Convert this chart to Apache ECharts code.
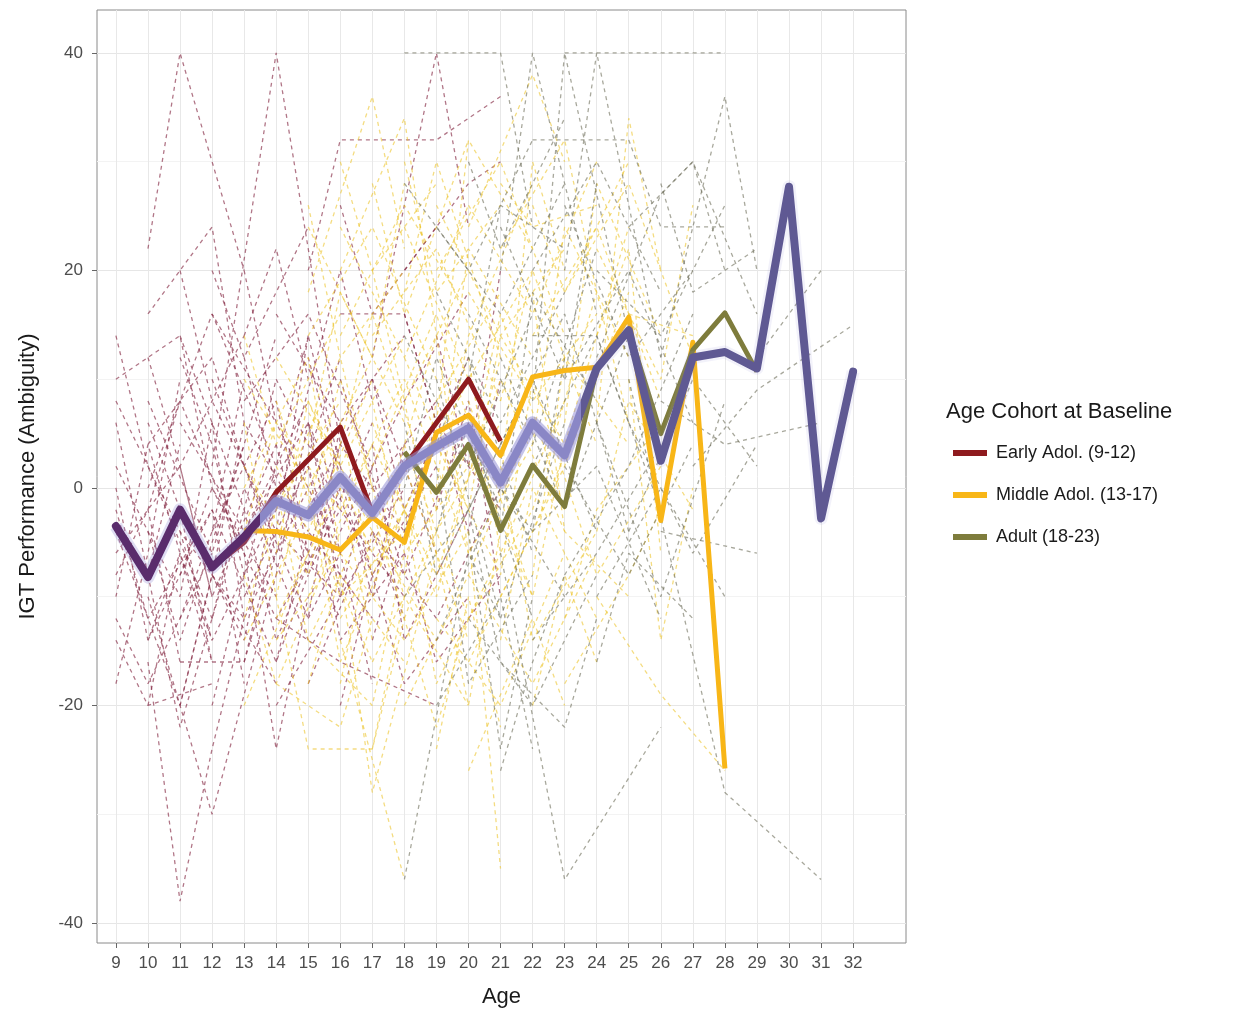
<!DOCTYPE html>
<html>
<head>
<meta charset="utf-8">
<script src="https://cdn.jsdelivr.net/npm/echarts@6/dist/echarts.min.js"></script>
<style>html,body{margin:0;padding:0;background:#fff}#c{width:1238px;height:1015px}</style>
</head>
<body>
<div id="c"></div>
<script>
// ---- tick labels ----
const xTicks = [9,10,11,12,13,14,15,16,17,18,19,20,21,22,23,24,25,26,27,28,29,30,31,32];
const yTicks = [-40,-20,0,20,40];
const yMinorTicks = [-30,-10,10,30];

// ---- group mean lines ----
const overallAges = [9,10,11,12,13,14,15,16,17,18,19,20,21,22,23,24,25,26,27,28,29,30,31,32];
const overallMean = [-3.5,-8.2,-2,-7.3,-4.5,-1.2,-2.5,1,-2.3,2,3.8,5.5,0.5,6,3,11,14.5,2.5,12,12.5,11,27.7,-2.8,10.7];

const earlyAges = [9,10,11,12,13,14,15,16,17,18,19,20,21];
const earlyMean = [-3.5,-8.2,-2,-7.3,-5,-0.4,2.6,5.6,-2.3,2,6,10,4.3];

const middleAges = [13,14,15,16,17,18,19,20,21,22,23,24,25,26,27,28];
const middleMean = [-3.9,-4,-4.5,-5.7,-2.7,-5,5.1,6.7,3,10.2,10.8,11.1,15.7,-3,13.4,-25.8];

const adultAges = [18,19,20,21,22,23,24,25,26,27,28,29];
const adultMean = [3.3,-0.4,4,-3.9,2.1,-1.7,11,14.5,5,12.7,16.1,10.7];

// ---- individual trajectories ([age, score] pairs) ----
const earlyTraj = [
 [[10,22],[11,40],[13,20]],
 [[12,2],[14,40],[16,4]],
 [[10,-16],[11,-38],[12,-24],[13,-12]],
 [[10,-10],[12,-30],[14,-8]],
 [[11,-16],[13,-16],[14,-6]],
 [[13,-6],[14,-24],[15,-10]],
 [[9,-18],[10,-6],[11,10]],
 [[9,14],[10,2],[12,-12]],
 [[15,20],[16,32],[19,32],[21,36]],
 [[17,12],[19,40],[20,24]],
 [[11,12],[12,4],[13,-8]],
 [[10,8],[12,-6],[14,14]],
 [[14,-12],[16,-16],[19,-20]],
 [[9,-2],[10,-12],[12,-2]],
 [[9,2],[11,-10],[12,6]],
 [[10,-4],[11,-14],[13,4]],
 [[10,4],[12,12],[13,2]],
 [[11,-4],[12,-14],[14,-2]],
 [[11,6],[13,-4],[15,8]],
 [[12,-8],[13,6],[15,-4]],
 [[12,10],[14,-6],[16,12]],
 [[13,8],[15,16],[17,2]],
 [[13,-10],[15,2],[16,-8]],
 [[14,4],[15,-8],[17,6]],
 [[14,16],[16,6],[18,14]],
 [[15,-2],[17,10],[19,-6]],
 [[15,12],[17,-10],[18,4]],
 [[16,-4],[18,8],[20,18]],
 [[16,10],[18,-8],[20,6]],
 [[17,-14],[19,6],[21,-2]],
 [[18,16],[20,-4],[21,10]],
 [[9,-8],[10,-2],[11,-16]],
 [[9,8],[11,-4],[13,-12]],
 [[10,-20],[11,-6],[12,-14]],
 [[12,-20],[13,-8],[14,2]],
 [[11,20],[12,8],[14,-4]],
 [[12,20],[13,12],[15,24]],
 [[13,20],[14,6],[16,-6]],
 [[14,-16],[15,-4],[17,-12]],
 [[16,16],[18,16],[19,6]],
 [[18,20],[20,28],[21,30]],
 [[13,-2],[14,-14],[16,0]],
 [[10,12],[11,2],[13,14]],
 [[9,-12],[10,-18],[12,-6]],
 [[9,-6],[11,2],[12,-10]],
 [[11,-8],[12,0],[14,-10]],
 [[12,-4],[14,8],[15,-6]],
 [[13,2],[15,-12],[16,6]],
 [[14,-2],[16,20],[17,8]],
 [[15,6],[16,-10],[18,0]],
 [[17,4],[18,-14],[20,-2]],
 [[19,14],[20,2],[21,20]],
 [[16,26],[17,16],[19,24]],
 [[10,16],[12,24],[13,6]],
 [[15,-18],[17,-4],[18,-12]],
 [[9,0],[10,-14],[11,-6]],
 [[9,-10],[10,4],[12,-16]],
 [[9,6],[10,-8],[11,4]],
 [[9,-4],[11,-20],[12,-8]],
 [[9,10],[11,14],[12,0]],
 [[10,-2],[11,8],[13,-6]],
 [[10,-14],[12,-2],[13,-18]],
 [[10,6],[11,-2],[12,-16]],
 [[10,-8],[11,-22],[13,-2]],
 [[11,-12],[12,-4],[13,10]],
 [[11,2],[12,-10],[14,4]],
 [[11,-2],[13,-14],[14,0]],
 [[11,14],[13,-2],[14,10]],
 [[12,-12],[13,0],[15,-14]],
 [[12,6],[13,-12],[15,0]],
 [[12,-2],[14,-16],[15,-8]],
 [[12,16],[14,2],[15,14]],
 [[13,-16],[14,-4],[16,-10]],
 [[13,12],[14,0],[16,-12]],
 [[13,-4],[15,6],[17,-8]],
 [[14,-8],[15,6],[17,-18]],
 [[14,10],[16,-2],[18,-10]],
 [[14,-20],[16,-10],[17,2]],
 [[15,-6],[16,4],[18,-4]],
 [[15,-12],[17,0],[19,8]],
 [[16,-20],[17,-8],[19,2]],
 [[16,2],[18,-18],[20,-10]],
 [[17,-4],[19,-12],[21,0]],
 [[18,-6],[19,-16],[21,-8]],
 [[9,-14],[10,-20],[12,-18]],
 [[11,-20],[12,-8],[14,-18]],
 [[13,14],[14,22],[15,10]],
 [[10,0],[12,16],[14,6]],
 [[12,0],[14,-12],[16,-2]],
 [[15,2],[16,-14],[18,-6]],
 [[17,10],[18,-2],[20,12]],
 [[19,-2],[20,8],[21,-10]],
 [[14,-4],[15,14],[16,2]]
];

const middleTraj = [
 [[16,-14],[18,-36]],
 [[20,-4],[21,-35]],
 [[15,18],[17,36],[18,22]],
 [[20,24],[22,38],[23,30]],
 [[24,6],[25,34],[26,20]],
 [[24,-10],[26,-19],[28,-26]],
 [[25,16],[27,14]],
 [[14,-10],[15,-24],[17,-24],[18,-12]],
 [[16,-8],[17,-28],[19,-6]],
 [[13,-20],[15,-6]],
 [[13,-4],[14,6],[16,-2]],
 [[13,2],[15,-8],[16,4]],
 [[13,-12],[14,-2],[16,8]],
 [[13,10],[15,0],[17,12]],
 [[14,-6],[15,8],[17,-4]],
 [[14,12],[16,2],[18,14]],
 [[14,-14],[16,-6],[18,2]],
 [[14,0],[15,-14],[17,-2]],
 [[15,4],[16,18],[18,6]],
 [[15,-10],[17,4],[19,-8]],
 [[15,14],[17,24],[19,10]],
 [[15,-18],[16,-8],[18,-16]],
 [[16,6],[17,-8],[19,4]],
 [[16,-2],[18,10],[20,-6]],
 [[16,24],[18,12],[20,26]],
 [[16,-12],[18,-2],[20,10]],
 [[17,8],[18,-6],[20,2]],
 [[17,-16],[19,-4],[21,6]],
 [[17,14],[19,22],[21,8]],
 [[17,2],[19,16],[21,-4]],
 [[18,-8],[19,8],[21,18]],
 [[18,24],[20,10],[22,20]],
 [[18,4],[20,-12],[22,-2]],
 [[18,-20],[20,-8],[22,6]],
 [[19,-2],[20,14],[22,28]],
 [[19,20],[21,30],[23,14]],
 [[19,-12],[21,-20],[23,-6]],
 [[20,12],[21,-6],[23,8]],
 [[20,26],[22,16],[24,30]],
 [[20,-16],[22,-4],[24,10]],
 [[21,8],[22,20],[24,4]],
 [[21,-10],[23,2],[25,18]],
 [[21,22],[23,32],[24,18]],
 [[22,-8],[23,12],[25,4]],
 [[22,14],[24,24],[26,8]],
 [[23,-12],[24,-2],[26,6]],
 [[23,18],[25,28],[27,12]],
 [[24,14],[25,22],[26,-6]],
 [[13,6],[14,-10],[15,2]],
 [[16,30],[17,20],[19,28]],
 [[17,-24],[18,-10],[20,-20]],
 [[19,-24],[20,-10],[21,-22]],
 [[22,-20],[23,-8],[24,-16]],
 [[25,10],[26,-14],[27,0]],
 [[14,-18],[16,-22],[17,-12]],
 [[18,30],[19,18],[21,26]],
 [[19,6],[20,32],[22,22]],
 [[21,2],[22,-14],[24,-4]],
 [[22,4],[23,24],[25,12]],
 [[15,26],[16,12],[18,20]],
 [[17,28],[18,16],[20,32]],
 [[20,-26],[22,-12],[23,-20]],
 [[13,-8],[14,-18],[16,-4]],
 [[13,0],[15,12],[16,-6]],
 [[13,14],[14,4],[16,16]],
 [[14,2],[15,-4],[17,10]],
 [[14,-12],[16,0],[17,-14]],
 [[14,8],[16,-10],[18,-4]],
 [[15,-2],[16,10],[18,-10]],
 [[15,8],[17,-6],[19,14]],
 [[15,-14],[17,-20],[18,-6]],
 [[16,4],[17,16],[19,-2]],
 [[16,-6],[18,-14],[20,-4]],
 [[16,14],[18,26],[20,16]],
 [[17,-10],[18,2],[20,-14]],
 [[17,6],[19,-10],[21,12]],
 [[17,20],[18,8],[20,20]],
 [[18,-2],[19,-18],[21,-6]],
 [[18,12],[20,-2],[21,14]],
 [[18,18],[19,30],[21,12]],
 [[18,-12],[20,4],[22,-10]],
 [[19,4],[21,-8],[22,10]],
 [[19,14],[20,-6],[22,4]],
 [[19,-8],[21,10],[23,-4]],
 [[19,26],[21,14],[23,22]],
 [[20,2],[21,16],[23,-2]],
 [[20,-8],[22,-18],[24,-6]],
 [[20,18],[22,8],[24,16]],
 [[21,-14],[22,0],[24,-12]],
 [[21,14],[23,4],[25,24]],
 [[21,28],[22,24],[24,26]],
 [[22,-2],[24,18],[25,6]],
 [[22,26],[23,18],[25,30]],
 [[22,10],[24,-8],[26,2]],
 [[23,6],[24,28],[26,14]],
 [[23,-18],[25,-8],[26,-2]],
 [[24,-4],[25,8],[27,-2]],
 [[24,22],[26,10],[27,26]],
 [[13,-14],[15,-2],[17,-16]],
 [[14,-2],[16,12],[17,0]],
 [[15,0],[16,-16],[18,-2]],
 [[16,-18],[17,-4],[19,-14]],
 [[17,-2],[19,-22],[20,-12]],
 [[18,8],[20,-20],[21,-4]],
 [[19,0],[20,22],[22,12]],
 [[20,8],[22,-10],[23,4]],
 [[21,0],[22,30],[23,20]],
 [[22,18],[23,-4],[25,-10]],
 [[15,24],[17,12],[18,28]],
 [[16,20],[18,34],[19,14]]
];

const adultTraj = [
 [[18,40],[20,40],[21,40],[22,24]],
 [[23,40],[25,40],[26,40],[28,40]],
 [[21,20],[22,40],[24,16]],
 [[22,8],[23,40],[25,14]],
 [[23,20],[24,40],[26,12]],
 [[18,-36],[20,-6],[21,-12]],
 [[21,-6],[23,-36],[26,-22]],
 [[25,10],[28,-28],[31,-36]],
 [[26,-4],[29,-6]],
 [[26,8],[28,4],[31,6]],
 [[27,2],[29,9],[32,15]],
 [[25,32],[26,24],[28,24]],
 [[26,12],[28,36],[29,20]],
 [[29,12],[31,20]],
 [[25,24],[27,30],[28,20]],
 [[18,6],[19,-8],[21,4]],
 [[18,-4],[20,12],[22,-6]],
 [[18,14],[20,2],[22,16]],
 [[19,-14],[21,0],[23,-10]],
 [[19,10],[21,-12],[23,6]],
 [[19,2],[20,-18],[22,-8]],
 [[20,-2],[22,10],[24,-4]],
 [[20,16],[22,4],[24,22]],
 [[20,-4],[21,-24],[22,-10]],
 [[21,-26],[22,-16],[23,-8]],
 [[21,12],[23,-2],[25,14]],
 [[21,-4],[22,18],[24,8]],
 [[22,2],[24,14],[26,-2]],
 [[22,-14],[24,-6],[26,4]],
 [[23,10],[25,20],[27,6]],
 [[23,-8],[25,2],[27,16]],
 [[24,6],[26,-10],[28,8]],
 [[24,20],[26,14],[28,26]],
 [[25,-4],[27,10],[29,2]],
 [[19,24],[21,16],[23,28]],
 [[18,28],[20,20],[22,32]],
 [[20,30],[21,22],[23,34]],
 [[26,28],[27,18],[29,22]],
 [[24,-16],[25,-6],[27,-12]],
 [[18,0],[19,12],[21,-2]],
 [[18,-10],[20,-2],[21,-16]],
 [[19,-4],[20,6],[22,-12]],
 [[19,18],[21,6],[23,18]],
 [[20,4],[22,-4],[23,12]],
 [[20,-12],[22,-20],[24,-8]],
 [[21,4],[23,16],[25,-4]],
 [[21,24],[23,10],[24,28]],
 [[22,-4],[24,2],[26,-12]],
 [[22,20],[24,30],[26,18]],
 [[22,32],[25,32]],
 [[22,14],[24,14],[25,6]],
 [[23,2],[25,-8],[27,4]],
 [[23,26],[25,12],[27,20]],
 [[24,-10],[26,0],[28,-10]],
 [[24,12],[26,27],[27,30],[29,16]],
 [[25,6],[27,-6],[29,4]],
 [[20,10],[21,26],[23,22]],
 [[19,-20],[21,-10],[22,-24]],
 [[21,-16],[23,-22],[24,-12]]
];

const cohortNames = ['Early Adol. (9-12)', 'Middle Adol. (13-17)', 'Adult (18-23)'];

// ---- build ----
const FONT = '"Liberation Sans", Arial, Helvetica, sans-serif';
function zip(xs, ys){ return xs.map((x,i)=>[x, ys[i]]); }
function dashedSeries(list, color){
  return list.map(t => ({
    type:'line', data:t, showSymbol:false, silent:true, animation:false, z:1,
    lineStyle:{type:[4,4], width:1.3, color:color}
  }));
}
const series = [];
series.push(...dashedSeries(earlyTraj, 'rgba(135,45,70,0.65)'));
series.push(...dashedSeries(middleTraj, 'rgba(236,196,45,0.6)'));
series.push(...dashedSeries(adultTraj, 'rgba(110,110,90,0.6)'));

function solid(name, xs, ys, color){
  return {type:'line', name:name, data:zip(xs,ys), showSymbol:false, animation:false, z:3,
    itemStyle:{color:color}, lineStyle:{width:5, color:color, join:'round'}};
}
series.push(solid(cohortNames[0], earlyAges, earlyMean, '#8E1A1E'));
series.push(solid(cohortNames[1], middleAges, middleMean, '#F8B617'));
series.push(solid(cohortNames[2], adultAges, adultMean, '#7E7C3C'));

// overall mean: lavender band + core line
const bandIdx = series.length;
series.push({type:'line', data:zip(overallAges, overallMean), showSymbol:false, silent:true, animation:false, z:4,
  lineStyle:{width:13, join:'round'}});
const overallIdx = series.length;
series.push({type:'line', data:zip(overallAges, overallMean), showSymbol:false, silent:true, animation:false, z:5,
  lineStyle:{width:8, join:'round', cap:'round'}});

const option = {
  backgroundColor:'#fff',
  animation:false,
  textStyle:{fontFamily:FONT},
  title:{text:'Age Cohort at Baseline', left:941, top:396,
    textStyle:{fontFamily:FONT, fontSize:22, fontWeight:'normal', color:'#1a1a1a'}},
  legend:{data:cohortNames, orient:'vertical', left:948, top:439, icon:'rect',
    itemWidth:34, itemHeight:6, itemGap:24,
    textStyle:{fontFamily:FONT, fontSize:18, color:'#1a1a1a', padding:[0,0,0,4]}},
  visualMap:[
    {show:false, type:'piecewise', seriesIndex:overallIdx, dimension:0,
     pieces:[{lt:13.5, color:'#5A2C6C'},{gte:13.5, lt:23.5, color:'#8A87C6'},{gte:23.5, color:'#5F5993'}]},
    {show:false, type:'piecewise', seriesIndex:bandIdx, dimension:0,
     pieces:[{lt:13.5, color:'rgba(150,146,215,0.3)'},{gte:13.5, lt:23.5, color:'rgba(150,146,215,0.55)'},{gte:23.5, color:'rgba(150,146,215,0.12)'}]}
  ],
  grid:{left:97, top:10, width:809, height:933, show:true, borderColor:'#8a8a8a', borderWidth:1, backgroundColor:'#fff'},
  xAxis:{type:'value', min:8.41, max:33.65,
    name:'Age', nameLocation:'middle', nameGap:43,
    nameTextStyle:{fontFamily:FONT, fontSize:22, color:'#1a1a1a'},
    axisLine:{show:false, onZero:false},
    axisTick:{show:true, length:5, customValues:xTicks, lineStyle:{color:'#666'}},
    axisLabel:{customValues:xTicks, margin:12, fontSize:17, color:'#4d4d4d', fontFamily:FONT},
    splitLine:{show:true, lineStyle:{color:'#e8e8e8', width:1}}},
  yAxis:[
    {type:'value', min:-41.84, max:43.95,
     name:'IGT Performance (Ambiguity)', nameLocation:'middle', nameGap:58,
     nameTextStyle:{fontFamily:FONT, fontSize:22, color:'#1a1a1a'},
     axisLine:{show:false, onZero:false},
     axisTick:{show:true, length:5, customValues:yTicks, lineStyle:{color:'#666'}},
     axisLabel:{customValues:yTicks, margin:14, fontSize:17, color:'#4d4d4d', fontFamily:FONT},
     splitLine:{show:true, lineStyle:{color:'#e6e6e6', width:1.2}}},
    {type:'value', min:-41.84, max:43.95, position:'right',
     axisLine:{show:false, onZero:false}, axisTick:{show:false, customValues:yMinorTicks},
     axisLabel:{show:false, customValues:yMinorTicks},
     splitLine:{show:true, lineStyle:{color:'#f3f3f3', width:1}}}
  ],
  series:series
};
const chart = echarts.init(document.getElementById('c'), null, {renderer:'canvas'});
chart.setOption(option);
</script>
</body>
</html>
